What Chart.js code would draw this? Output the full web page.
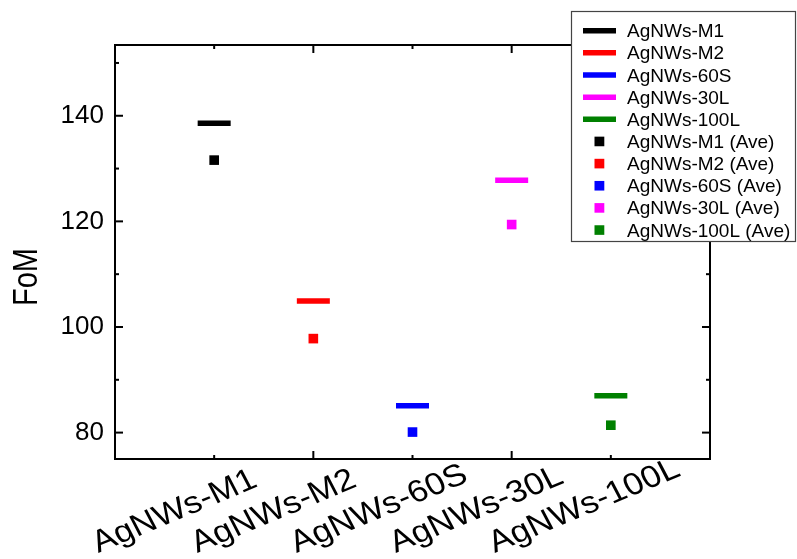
<!DOCTYPE html>
<html>
<head>
<meta charset="utf-8">
<script src="https://cdn.jsdelivr.net/npm/chart.js@4.4.1/dist/chart.umd.min.js"></script>
<style>
  html, body { margin: 0; padding: 0; background: #fff; }
</style>
</head>
<body>
<canvas id="myChart" width="797" height="559"></canvas>
<script>
var categories = ["AgNWs-M1", "AgNWs-M2", "AgNWs-60S", "AgNWs-30L", "AgNWs-100L"];
var fomValues = [138.6, 104.9, 85.1, 127.8, 87.0];
var aveValues = [131.6, 97.8, 80.1, 119.4, 81.4];
var colors = ["#000000", "#ff0000", "#0000ff", "#ff00ff", "#008000"];
var yMajorTicks = [80, 100, 120, 140];
var yMinorTicks = [90, 110, 130, 150];
var xMajorTicks = [2, 4];
var xMinorTicks = [1, 3, 5];

var FONT = '"Liberation Sans", Arial, sans-serif';
Chart.defaults.font.family = FONT;
Chart.defaults.color = '#000';

// the horizontal bars and the average squares
var datasets = [];
categories.forEach(function (name, i) {
    datasets.push({
        label: name,
        data: [{ x: i + 1, y: fomValues[i] }],
        pointStyle: 'line',
        pointRadius: 16.5,
        pointBorderWidth: 5.5,
        borderColor: colors[i],
        backgroundColor: colors[i]
    });
});
categories.forEach(function (name, i) {
    datasets.push({
        label: name + ' (Ave)',
        data: [{ x: i + 1, y: aveValues[i] }],
        pointStyle: 'rect',
        pointRadius: 6.8,
        pointBorderWidth: 0,
        borderColor: colors[i],
        backgroundColor: colors[i]
    });
});

function line(ctx, x1, y1, x2, y2) {
    ctx.beginPath();
    ctx.moveTo(x1, y1);
    ctx.lineTo(x2, y2);
    ctx.stroke();
}

// inward ticks, slanted category labels, y title and the boxed legend
var framePlugin = {
    id: 'frame',
    afterDraw: function (chart) {
        var ctx = chart.ctx, a = chart.chartArea;
        var sx = chart.scales.x, sy = chart.scales.y;
        ctx.save();
        ctx.strokeStyle = '#000';
        ctx.lineWidth = 2;
        xMajorTicks.forEach(function (v) {
            var p = sx.getPixelForValue(v);
            line(ctx, p, a.bottom, p, a.bottom - 8);
            line(ctx, p, a.top, p, a.top + 8);
        });
        xMinorTicks.forEach(function (v) {
            var p = sx.getPixelForValue(v);
            line(ctx, p, a.bottom, p, a.bottom - 4);
            line(ctx, p, a.top, p, a.top + 4);
        });
        yMajorTicks.forEach(function (v) {
            var p = sy.getPixelForValue(v);
            line(ctx, a.left, p, a.left + 8, p);
            line(ctx, a.right, p, a.right - 8, p);
        });
        yMinorTicks.forEach(function (v) {
            var p = sy.getPixelForValue(v);
            line(ctx, a.left, p, a.left + 4, p);
            line(ctx, a.right, p, a.right - 4, p);
        });

        ctx.fillStyle = '#000';
        ctx.font = '31px ' + FONT;
        ctx.textAlign = 'left';
        ctx.textBaseline = 'alphabetic';
        categories.forEach(function (name, i) {
            var p = sx.getPixelForValue(i + 1);
            ctx.save();
            ctx.translate(p - 116, a.bottom + 94);
            ctx.scale(1.12, 1);
            ctx.rotate(-25 * Math.PI / 180);
            ctx.fillText(name, 0, 0);
            ctx.restore();
        });

        ctx.save();
        ctx.font = '29px ' + FONT;
        ctx.textAlign = 'center';
        ctx.translate(36.5, 277);
        ctx.scale(1.2, 1);
        ctx.rotate(-Math.PI / 2);
        ctx.fillText('FoM', 0, 0);
        ctx.restore();

        // legend
        var lx = 571.5, ly = 11.5, lw = 224, lh = 230;
        ctx.fillStyle = '#fff';
        ctx.fillRect(lx, ly, lw, lh);
        ctx.strokeStyle = '#444';
        ctx.lineWidth = 1.2;
        ctx.strokeRect(lx, ly, lw, lh);
        ctx.font = '19px ' + FONT;
        chart.data.datasets.forEach(function (ds, i) {
            var y = 30.7 + i * 22.15;
            ctx.strokeStyle = ds.borderColor;
            ctx.fillStyle = ds.backgroundColor;
            if (ds.pointStyle === 'line') {
                ctx.lineWidth = 5.5;
                line(ctx, 583, y, 616, y);
            } else {
                ctx.fillRect(594.5, y - 4.8, 9.8, 9.6);
            }
            ctx.fillStyle = '#000';
            ctx.fillText(ds.label, 627, y + 6.5);
        });
        ctx.restore();
    }
};

var ctx = document.getElementById('myChart').getContext('2d');
var myChart = new Chart(ctx, {
    type: 'scatter',
    data: { datasets: datasets },
    options: {
        responsive: false,
        animation: false,
        events: [],
        layout: { padding: 0 },
        plugins: { legend: { display: false }, tooltip: { enabled: false } },
        scales: {
            x: {
                type: 'linear', position: 'bottom', min: 0, max: 6,
                ticks: { display: false },
                grid: { drawOnChartArea: false, drawTicks: false },
                border: { color: '#000', width: 2 },
                afterFit: function (s) { s.height = 100; }
            },
            x2: {
                type: 'linear', position: 'top', min: 0, max: 6,
                ticks: { display: false },
                grid: { drawOnChartArea: false, drawTicks: false },
                border: { color: '#000', width: 2 },
                afterFit: function (s) { s.height = 45; }
            },
            y: {
                type: 'linear', position: 'left', min: 75, max: 153.4,
                ticks: { stepSize: 20, includeBounds: false, padding: 11, font: { size: 26 }, color: '#000' },
                grid: { drawOnChartArea: false, drawTicks: false },
                border: { color: '#000', width: 2 },
                afterFit: function (s) { s.width = 115; }
            },
            y2: {
                type: 'linear', position: 'right', min: 75, max: 153.4,
                ticks: { display: false },
                grid: { drawOnChartArea: false, drawTicks: false },
                border: { color: '#000', width: 2 },
                afterFit: function (s) { s.width = 87; }
            }
        }
    },
    plugins: [framePlugin]
});
</script>
</body>
</html>
